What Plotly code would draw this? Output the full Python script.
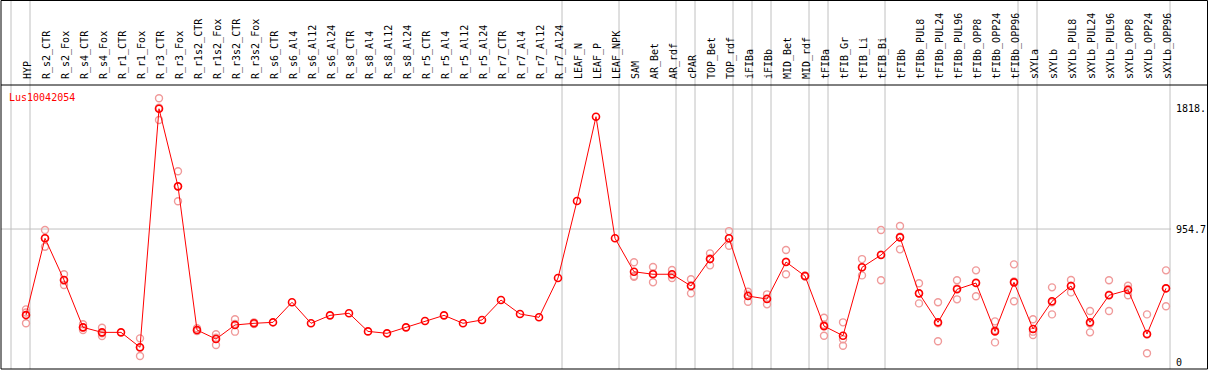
import plotly.graph_objects as go

# ---------------- data ----------------
gene = "Lus10042054"

categories = [
    "HYP", "R_s2_CTR", "R_s2_Fox", "R_s4_CTR", "R_s4_Fox", "R_r1_CTR", "R_r1_Fox",
    "R_r3_CTR", "R_r3_Fox", "R_r1s2_CTR", "R_r1s2_Fox", "R_r3s2_CTR", "R_r3s2_Fox",
    "R_s6_CTR", "R_s6_Al4", "R_s6_Al12", "R_s6_Al24", "R_s8_CTR", "R_s8_Al4",
    "R_s8_Al12", "R_s8_Al24", "R_r5_CTR", "R_r5_Al4", "R_r5_Al12", "R_r5_Al24",
    "R_r7_CTR", "R_r7_Al4", "R_r7_Al12", "R_r7_Al24", "LEAF_N", "LEAF_P", "LEAF_NPK",
    "SAM", "AR_Bet", "AR_rdf", "cPAR", "TOP_Bet", "TOP_rdf", "iFIBa", "iFIBb",
    "MID_Bet", "MID_rdf", "tFIBa", "tFIB_Gr", "tFIB_Li", "tFIB_Bi", "tFIBb",
    "tFIBb_PUL8", "tFIBb_PUL24", "tFIBb_PUL96", "tFIBb_OPP8", "tFIBb_OPP24",
    "tFIBb_OPP96", "sXYLa", "sXYLb", "sXYLb_PUL8", "sXYLb_PUL24", "sXYLb_PUL96",
    "sXYLb_OPP8", "sXYLb_OPP24", "sXYLb_OPP96",
]

means = [
    337, 888, 589, 249, 213, 213, 106,
    1818, 1261, 230, 165, 266, 278,
    285, 429, 278, 335, 350, 220,
    206, 249, 294, 335, 278, 302,
    445, 345, 321, 603, 1156, 1761, 888,
    648, 630, 630, 546, 739, 888, 474, 452,
    718, 617, 258, 189, 680, 768, 895,
    493, 285, 522, 567, 220,
    572, 237, 436, 546, 285, 479,
    517, 201, 529,
]

replicates = [
    [378, 278, 356], [948, 828, 889], [630, 553, 584], [271, 230, 247], [246, 187, 207],
    [], [170, 43, 103],
    [1893, 1737, 1825], [1369, 1154, 1261], [242, 225, 222], [199, 122, 174],
    [307, 218, 273], [285, 272, 276],
    [], [], [], [], [], [],
    [], [], [], [], [], [],
    [], [], [], [], [], [], [],
    [716, 617, 612], [682, 572, 635], [661, 603, 625], [594, 493, 550],
    [780, 694, 744], [940, 835, 889], [505, 433, 484], [486, 414, 457],
    [804, 630, 720], [622, 614, 616], [318, 189, 268], [285, 117, 164],
    [739, 622, 678], [948, 587, 771], [976, 809, 900],
    [565, 421, 493], [429, 149, 278], [587, 450, 529], [658, 472, 571],
    [292, 141, 228], [701, 436, 579],
    [307, 218, 194], [536, 342, 429], [589, 500, 548], [366, 213, 276],
    [587, 366, 484], [548, 479, 524], [342, 63, 198], [658, 400, 529],
]

# group boundaries: vertical separators drawn after these category indices
group_ends = [-1, 0, 28, 31, 34, 35, 37, 38, 39, 41, 42, 45, 52, 53, 60]

y_ticks = [0, 954.7, 1818.3]
y_ticktext = ["0", "954.7", "1818."]
grid_value = 954.7

# ---------------- style ----------------
RED = "#ff0000"
PINK = "#f09a9a"
GRID = "#c0c0c0"
FONT = "DejaVu Sans Mono"
CELL_EDGE = 4 / 19  # separator offset past category centre

rep_x, rep_y = [], []
for cat, reps in zip(categories, replicates):
    for v in reps:
        rep_x.append(cat)
        rep_y.append(v)

fig = go.Figure()
fig.add_trace(go.Scatter(
    x=rep_x, y=rep_y, mode="markers",
    marker=dict(symbol="circle-open", size=7, color=PINK, line=dict(width=1.4, color=PINK)),
    hoverinfo="y", showlegend=False,
))
fig.add_trace(go.Scatter(
    x=categories, y=means, mode="lines+markers",
    line=dict(color=RED, width=1),
    marker=dict(symbol="circle-open", size=7, color=RED, line=dict(width=1.6, color=RED)),
    showlegend=False,
))

shapes = []
top_paper = (369 - 0.5) / 284
right_paper = 1206.5 / 1170
for g in group_ends:
    shapes.append(dict(type="line", xref="x", yref="paper", x0=g + CELL_EDGE, x1=g + CELL_EDGE,
                       y0=0, y1=top_paper, line=dict(color=GRID, width=1), layer="below"))
shapes.append(dict(type="line", xref="paper", yref="y", x0=0, x1=1, y0=grid_value, y1=grid_value,
                   line=dict(color=GRID, width=1), layer="below"))
# outer frame and separator under the label band
shapes.append(dict(type="rect", xref="paper", yref="paper", x0=0, x1=right_paper, y0=0, y1=top_paper,
                   line=dict(color="black", width=1)))
shapes.append(dict(type="line", xref="paper", yref="paper", x0=0, x1=right_paper, y0=1, y1=1,
                   line=dict(color="black", width=1)))

fig.update_layout(
    width=1209, height=370,
    margin=dict(l=1, r=38, t=85, b=1, pad=0),
    paper_bgcolor="white", plot_bgcolor="white",
    font=dict(family=FONT, size=10, color="black"),
    title=dict(text=gene, x=9 / 1209, xanchor="left", y=1 - 97 / 370, yanchor="middle",
               font=dict(family=FONT, size=10, color=RED)),
    shapes=shapes,
    xaxis=dict(
        type="category", categoryorder="array", categoryarray=categories,
        range=[-25 / 19, 1145 / 19], side="top", tickangle=-90,
        tickmode="array", tickvals=categories, ticktext=categories,
        showgrid=False, zeroline=False, showline=False,
        ticks="outside", ticklen=3, tickcolor="rgba(0,0,0,0)",
        ticklabelshift=2,
        tickfont=dict(family=FONT, size=10, color="black"),
        automargin=False,
    ),
    yaxis=dict(
        range=[-50, 1988.5], side="right", tickmode="array",
        tickvals=y_ticks, ticktext=y_ticktext,
        showgrid=False, zeroline=False, showline=False,
        ticks="outside", ticklen=2, tickcolor="rgba(0,0,0,0)",
        tickfont=dict(family=FONT, size=10, color="black"),
        automargin=False,
    ),
)

fig.write_html(
    "out.html",
    config={"displayModeBar": False},
    post_script="document.body.style.margin='0px';document.body.style.overflow='hidden';",
)
